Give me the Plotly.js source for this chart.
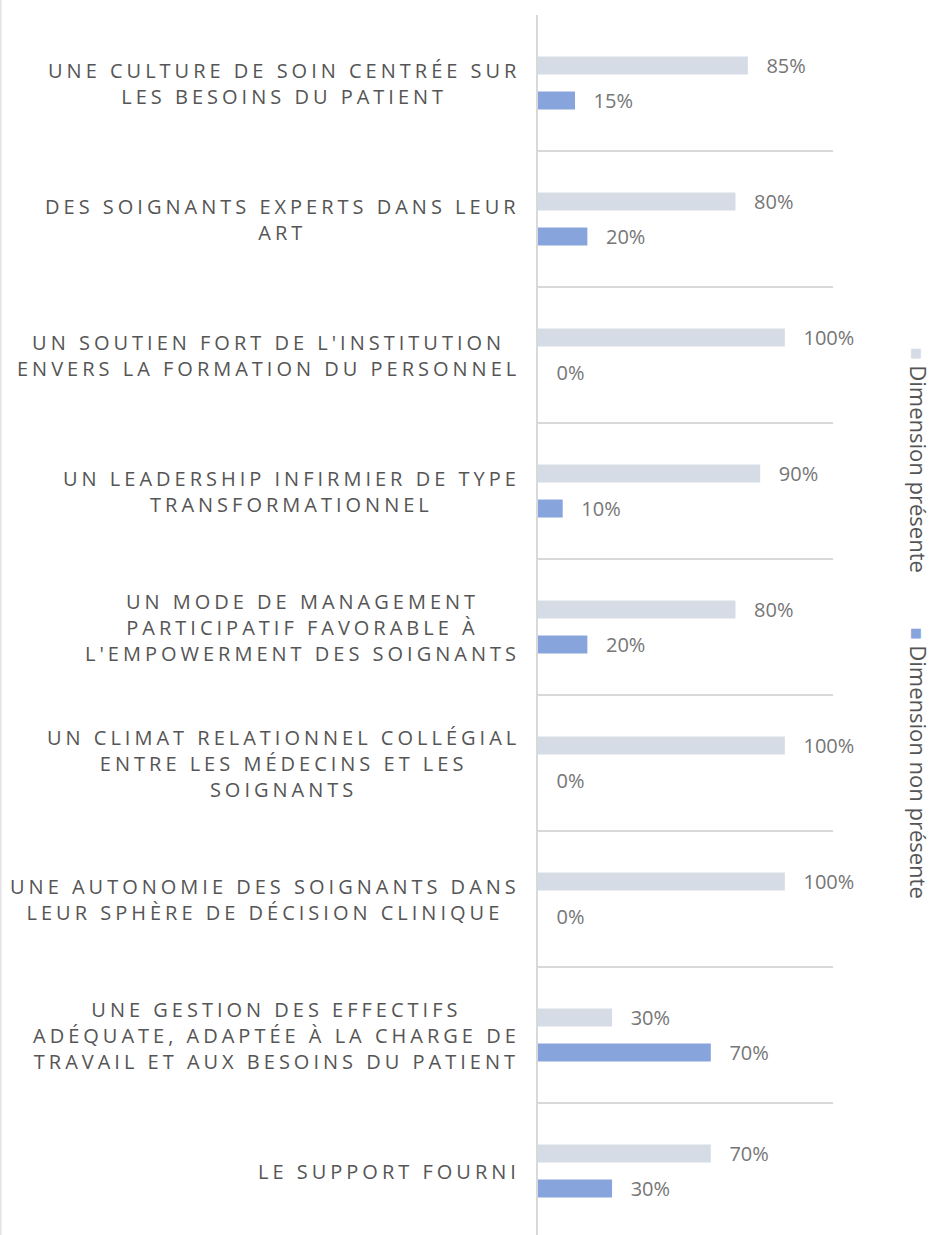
<!DOCTYPE html>
<html>
<head>
<meta charset="utf-8">
<script src="https://cdn.plot.ly/plotly-3.0.1.min.js"></script>
<style>
  html, body { margin: 0; padding: 0; background: #fff; overflow: hidden; }
  #chart { width: 935px; height: 1240px; }
  text[style*="spacedcaps"] { letter-spacing: 4px; }
</style>
</head>
<body>
<div id="chart"></div>
<script>
// ---- data ----
const categories = [
  "UNE CULTURE DE SOIN CENTRÉE SUR<br>LES BESOINS DU PATIENT",
  "DES SOIGNANTS EXPERTS DANS LEUR<br>ART",
  "UN SOUTIEN FORT DE L'INSTITUTION<br>ENVERS LA FORMATION DU PERSONNEL",
  "UN LEADERSHIP INFIRMIER DE TYPE<br>TRANSFORMATIONNEL",
  "UN MODE DE MANAGEMENT<br>PARTICIPATIF FAVORABLE À<br>L'EMPOWERMENT DES SOIGNANTS",
  "UN CLIMAT RELATIONNEL COLLÉGIAL<br>ENTRE LES MÉDECINS ET LES<br>SOIGNANTS",
  "UNE AUTONOMIE DES SOIGNANTS DANS<br>LEUR SPHÈRE DE DÉCISION CLINIQUE",
  "UNE GESTION DES EFFECTIFS<br>ADÉQUATE, ADAPTÉE À LA CHARGE DE<br>TRAVAIL ET AUX BESOINS DU PATIENT",
  "LE SUPPORT FOURNI"
];
const presente    = [85, 80, 100, 90, 80, 100, 100, 30, 70];
const nonPresente = [15, 20,   0, 10, 20,   0,   0, 70, 30];
const seriesNames = ["Dimension présente", "Dimension non présente"];

// ---- styles ----
const colGray = "#d6dce5";
const colBlue = "#87a4dc";
const textDark = "#555555";
const textVal = "#767676";

const W = 935, H = 1240;
const M = {l: 538, r: 102, t: 15, b: 1};
const plotW = W - M.l - M.r, plotH = H - M.t - M.b;
const pxX = px => (px - M.l) / plotW;
const pxY = py => (H - M.b - py) / plotH;

function barTrace(vals, name, color) {
  return {
    type: "bar", orientation: "h",
    x: vals, y: categories, name: name,
    marker: {color: color},
    texttemplate: "\u00a0\u00a0\u00a0%{x}%",
    textposition: "outside",
    constraintext: "none",
    cliponaxis: false,
    textfont: {family: "Open Sans", size: 20, color: textVal},
    hoverinfo: "skip"
  };
}

const data = [
  barTrace(presente, seriesNames[0], colGray),
  barTrace(nonPresente, seriesNames[1], colBlue)
];

const annotations = categories.map(c => ({
  xref: "x", yref: "y", x: 0, y: c,
  xanchor: "right", yanchor: "middle", xshift: -16,
  align: "center", showarrow: false,
  text: c,
  font: {family: "spacedcaps, Open Sans", size: 20, color: textDark}
}));

// legend (rotated)
const legendItems = [
  {name: seriesNames[0], color: colGray, top: 345},
  {name: seriesNames[1], color: colBlue, top: 625}
];
legendItems.forEach(it => {
  annotations.push({
    xref: "paper", yref: "paper", x: pxX(919), y: pxY(it.top),
    xanchor: "center", yanchor: "top", textangle: 90, showarrow: false,
    text: '<span style="font-size:20px;color:' + it.color + '">■</span> ' + it.name,
    font: {family: "Open Sans", size: 22, color: textDark}
  });
});

const layout = {
  width: W, height: H,
  margin: M,
  paper_bgcolor: "#fff", plot_bgcolor: "#fff",
  barmode: "group", bargap: 0.485, bargroupgap: 0.486,
  showlegend: false,
  xaxis: {range: [0, 119.5], showgrid: false, zeroline: false, showticklabels: false, showline: false, fixedrange: true},
  yaxis: {type: "category", autorange: "reversed", tickson: "boundaries",
          showgrid: true, gridcolor: "#d9d9d9", gridwidth: 2,
          showline: true, linecolor: "#d9d9d9", linewidth: 2,
          showticklabels: false, ticks: "", zeroline: false, fixedrange: true},
  annotations: annotations,
  shapes: [{type: "line", xref: "paper", yref: "paper", x0: pxX(0.5), x1: pxX(0.5), y0: pxY(0), y1: pxY(H),
            line: {color: "#e3e3e3", width: 2}}]
};

Plotly.newPlot("chart", data, layout, {displayModeBar: false, staticPlot: true});
</script>
</body>
</html>
